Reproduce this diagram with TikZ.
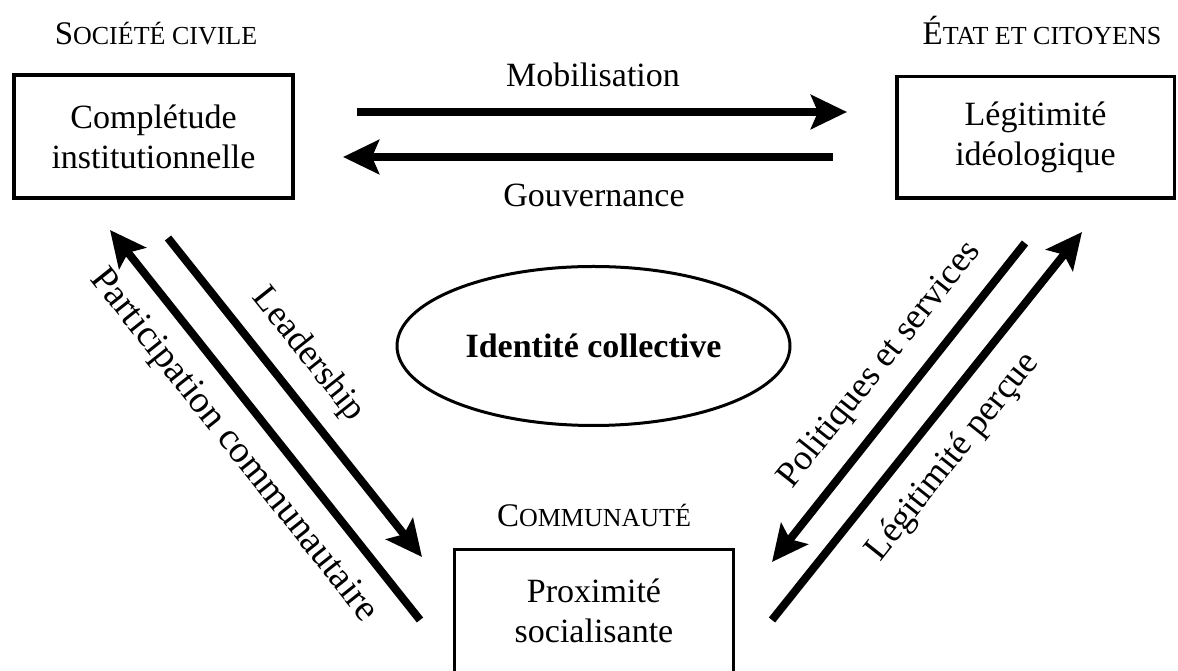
\documentclass[tikz,border=0pt]{standalone}
\usepackage{fontspec}
\setmainfont{Liberation Serif}
\usetikzlibrary{arrows.meta,shapes.geometric}
\newcommand{\mysca}[1]{{\fontsize{33}{33}\selectfont #1}}
\newcommand{\myscb}[1]{{\fontsize{26}{26}\selectfont #1}}
\tikzset{
  box/.style={draw, line width=3.5pt, minimum width=279pt, minimum height=123pt,
    align=center, font=\fontsize{34}{40}\selectfont, inner sep=0pt},
  flow/.style={line width=8pt, -{Stealth[length=36pt,width=34pt,inset=7pt]}},
  lbl/.style={font=\fontsize{34}{40}\selectfont, inner sep=0pt, anchor=base},
  dlbl/.style={font=\fontsize{36}{40}\selectfont, inner sep=0pt},
  caplbl/.style={inner sep=0pt, anchor=base},
}
\begin{document}
\begin{tikzpicture}[x=1pt,y=1pt]
\useasboundingbox (0,0) rectangle (1178,671);
\fill[white] (0,0) rectangle (1178,671);
\clip (0,0) rectangle (1178,671);

% boxes
\node[box] (L) at (153.5,534.5) {Complétude\\institutionnelle};
\node[box, minimum width=277.5pt, minimum height=121.5pt] (R) at (1035.5,533.5) {Légitimité\\idéologique};
\node[box] (B) at (594,59.75) {Proximité\\socialisante};

% headings
\node[caplbl] (soc) at (156,626) {\mysca{S}\myscb{OCIÉTÉ CIVILE}};
\node[caplbl] (etat) at (1042,626) {\mysca{É}\myscb{TAT ET CITOYENS}};
\node[caplbl] (comm) at (594,144) {\mysca{C}\myscb{OMMUNAUTÉ}};

% ellipse
\node[draw, ellipse, line width=3pt, minimum width=393pt, minimum height=159pt,
  inner sep=0pt, font=\bfseries\fontsize{34}{40}\selectfont] (I) at (593.5,325) {Identité collective};

% arrow end points
\coordinate (m1) at (357,559); \coordinate (m2) at (847,559);
\coordinate (g1) at (833,514); \coordinate (g2) at (343,514);
\coordinate (p1) at (420,51);  \coordinate (p2) at (110,441);
\coordinate (l1) at (168,433); \coordinate (l2) at (422,114);
\coordinate (s1) at (1025,428); \coordinate (s2) at (772,109);
\coordinate (v1) at (772,51);  \coordinate (v2) at (1082,439);

\draw[flow] (m1) -- (m2);
\draw[flow] (g1) -- (g2);
\draw[flow] (p1) -- (p2);
\draw[flow] (l1) -- (l2);
\draw[flow] (s1) -- (s2);
\draw[flow] (v1) -- (v2);

% arrow labels
\node[lbl] (mob) at (593,584) {Mobilisation};
\node[lbl] (gov) at (594,464) {Gouvernance};
\node[dlbl, rotate=-51.5] (lead) at (308,316) {Leadership};
\node[dlbl, rotate=-51.5, font=\fontsize{38}{40}\selectfont] (part) at (233,225) {Participation communautaire};
\node[dlbl, rotate=51.5] (pol) at (880,306) {Politiques et services};
\node[dlbl, rotate=51.5] (leg) at (953,214) {Légitimité perçue};
\end{tikzpicture}
\end{document}
